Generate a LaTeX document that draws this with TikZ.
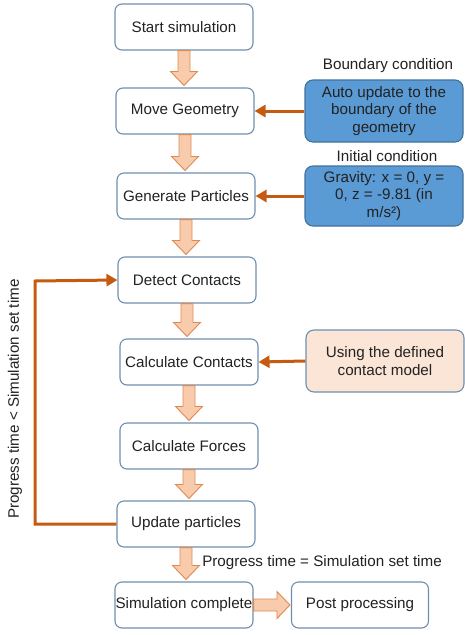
\documentclass[tikz,border=0pt]{standalone}
\usepackage{fontspec}
\setmainfont{Liberation Sans}
\usetikzlibrary{calc,arrows.meta}
\definecolor{boxedge}{HTML}{6F8FAF}
\definecolor{txt}{HTML}{222222}
\definecolor{bluefill}{HTML}{5B9BD5}
\definecolor{blueedge}{HTML}{41719C}
\definecolor{peach}{HTML}{FBE5D6}
\definecolor{blockfill}{HTML}{F8CBAD}
\definecolor{blockedge}{HTML}{E08A50}
\definecolor{linkorange}{HTML}{C55A11}
\tikzset{
  stepbox/.style={draw=boxedge, line width=1.1pt, fill=white, rounded corners=7pt,
    minimum width=138pt, minimum height=46pt, text=txt, font=\fontsize{15.2}{17.5}\selectfont},
  infobox/.style={draw=blueedge, line width=1.1pt, fill=bluefill, rounded corners=8pt,
    minimum width=158pt, minimum height=60pt, text=txt, align=center,
    font=\fontsize{15.2}{17.8}\selectfont},
  notebox/.style={infobox, fill=peach, draw=boxedge},
  caption/.style={text=txt, font=\fontsize{15.2}{17.5}\selectfont},
  blockarrow/.style={draw=blockedge, fill=blockfill, line width=0.9pt, line join=miter},
  link/.style={draw=linkorange, line width=3pt, -{Triangle[length=11pt,width=12pt]}},
}
% downward block arrow between two stacked steps
\newcommand\vblock[2]{%
  \draw[blockarrow] let \p1=(#1.south), \p2=(#2.north) in
    (\x1-6pt,\y1) -- (\x1+6pt,\y1) -- (\x1+6pt,\y2+16pt) -- (\x1+13.5pt,\y2+16pt)
    -- (\x1,\y2+2pt) -- (\x1-13.5pt,\y2+16pt) -- (\x1-6pt,\y2+16pt) -- cycle;}
% rightward block arrow between two side-by-side steps
\newcommand\hblock[2]{%
  \draw[blockarrow] let \p1=(#1.east), \p2=(#2.west) in
    (\x1,\y1+6pt) -- (\x2-14pt,\y1+6pt) -- (\x2-14pt,\y1+13.5pt) -- (\x2-1pt,\y1)
    -- (\x2-14pt,\y1-13.5pt) -- (\x2-14pt,\y1-6pt) -- (\x1,\y1-6pt) -- cycle;}
\begin{document}
\begin{tikzpicture}[x=1pt,y=-1pt]
\useasboundingbox (0,0) rectangle (464,635);
\fill[white] (0,0) rectangle (464,635);

% main sequence
\node[stepbox] (start)  at (184,27)  {Start simulation};
\node[stepbox] (move)   at (185,111) {Move Geometry};
\node[stepbox] (gen)    at (186,196) {Generate Particles};
\node[stepbox] (detect) at (187,280) {Detect Contacts};
\node[stepbox] (calcc)  at (189,362) {Calculate Contacts};
\node[stepbox] (calcf)  at (189,446) {Calculate Forces};
\node[stepbox] (update) at (186,524) {Update particles};
\node[stepbox, inner sep=0pt] (simc) at (184,605) {Simulation complete};
\node[stepbox, minimum width=137pt] (post) at (360,605) {Post processing};

% inputs on the right
\node[infobox, minimum height=62pt] (bound) at (384,111)
  {Auto update to the\\boundary of the\\geometry};
\node[caption] (boundlbl) at (388,66) {Boundary condition};
\node[infobox] (grav) at (384,196)
  {Gravity: x = 0, y =\\0, z = -9.81 (in\\m/s²)};
\node[caption] (initlbl) at (387,156) {Initial condition};
\node[notebox, minimum height=62pt] (model) at (385,361)
  {Using the defined\\contact model};

% flow arrows
\vblock{start}{move}
\vblock{move}{gen}
\vblock{gen}{detect}
\vblock{detect}{calcc}
\vblock{calcc}{calcf}
\vblock{calcf}{update}
\vblock{update}{simc}
\hblock{simc}{post}

% side inputs
\draw[link] (bound.west) -- (move.east);
\draw[link] (grav.west) -- (gen.east);
\draw[link] (model.west) -- (calcc.east);

% loop back
\coordinate (loopbot) at (35,524);
\coordinate (looptop) at (35,281);
\draw[link, line join=miter] (update.west) -- (loopbot) -- (looptop) -- (detect.west);
\node[caption, rotate=90] (looplbl) at (15,399) {Progress time < Simulation set time};
\node[caption] (donelbl) at (322,563) {Progress time = Simulation set time};
\end{tikzpicture}
\end{document}
